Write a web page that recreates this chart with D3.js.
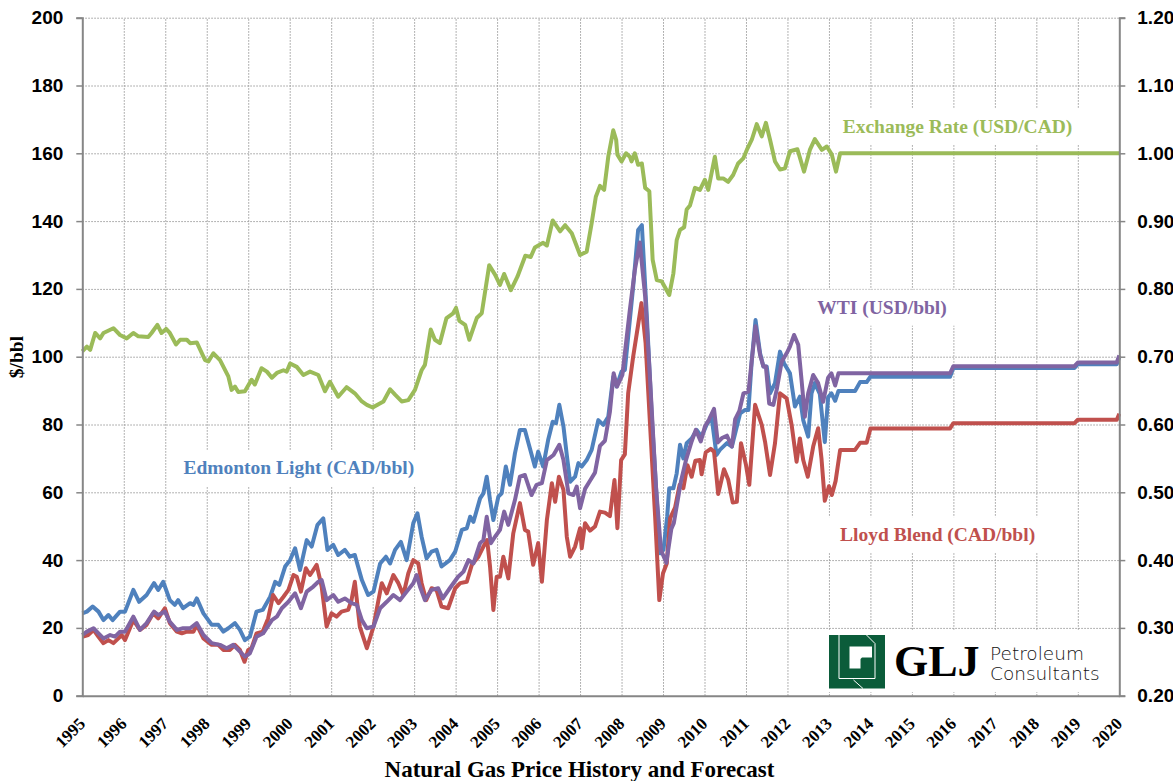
<!DOCTYPE html>
<html>
<head>
<meta charset="utf-8">
<script src="https://cdn.jsdelivr.net/npm/d3@7"></script>
<style>
  body { margin: 0; background: #fff; }
  svg { font-family: "Liberation Serif", "Times New Roman", serif; font-weight: bold; }
  .grid line { stroke: #9a9a9a; stroke-width: 1; stroke-dasharray: 1.5,1.5; }
  .grid .domain { display: none; }
  .axis .domain { stroke: #868686; stroke-width: 2; }
  .axis .tick line { stroke: #868686; stroke-width: 1.5; }
  .axis text { font-size: 19px; fill: #000; }
  .year-label { font-size: 17px; }
</style>
</head>
<body>
<div id="chart"></div>
<script>

// tick labels
var yearTicks = [1995, 1996, 1997, 1998, 1999, 2000, 2001, 2002, 2003, 2004, 2005, 2006, 2007,
  2008, 2009, 2010, 2011, 2012, 2013, 2014, 2015, 2016, 2017, 2018, 2019, 2020];
var priceTicks = [0, 20, 40, 60, 80, 100, 120, 140, 160, 180, 200];
var rateTicks = [0.2, 0.3, 0.4, 0.5, 0.6, 0.7, 0.8, 0.9, 1.0, 1.1, 1.2];

// [year, CAD/bbl]
var edmontonLight = [
  [1995.00,24.3],[1995.11,24.8],[1995.25,26.3],[1995.39,24.8],[1995.51,22.3],[1995.63,23.8],[1995.73,22.3],[1995.91,24.8],
  [1996.03,24.8],[1996.23,31.2],[1996.37,27.7],[1996.55,29.7],[1996.73,33.2],[1996.83,31.2],[1996.95,33.6],
  [1997.11,28.2],[1997.23,26.8],[1997.31,28.2],[1997.43,25.8],[1997.60,27.3],[1997.68,26.8],[1997.76,28.7],[1997.92,24.3],
  [1998.12,20.9],[1998.28,20.9],[1998.40,18.9],[1998.52,19.9],[1998.68,21.4],[1998.80,19.4],[1998.92,16.4],
  [1999.04,17.4],[1999.20,24.8],[1999.35,25.3],[1999.53,29.2],[1999.65,33.6],[1999.75,32.7],[1999.89,38.1],
  [2000.01,40],[2000.13,43.5],[2000.25,37.1],[2000.41,45.9],[2000.53,44],[2000.67,50.4],[2000.81,52.3],[2000.91,43],
  [2001.05,44.5],[2001.17,41.5],[2001.33,43],[2001.45,41],[2001.57,41.5],[2001.74,34.1],[2001.89,29.7],
  [2002.02,30.7],[2002.18,39],[2002.32,41],[2002.42,39],[2002.54,43],[2002.68,45.4],[2002.82,40],[2002.98,50.9],
  [2003.08,53.8],[2003.18,46.9],[2003.30,40.5],[2003.42,42.5],[2003.54,43],[2003.66,38.1],[2003.86,40],[2003.99,42.5],
  [2004.15,48.9],[2004.27,49.4],[2004.35,52.8],[2004.43,51.3],[2004.59,58.2],[2004.67,59.7],[2004.75,64.6],[2004.83,57.7],[2004.91,51.8],
  [2005.03,58.7],[2005.11,59.7],[2005.21,67.6],[2005.31,62.2],[2005.43,71.5],[2005.55,78.4],[2005.67,78.4],[2005.79,73],[2005.91,67.6],[2005.99,72],
  [2006.11,67.6],[2006.23,75.4],[2006.34,80.8],[2006.42,80.4],[2006.50,85.8],[2006.60,79.4],[2006.68,71],[2006.76,63.1],[2006.88,64.6],[2006.96,68.6],
  [2007.04,67.6],[2007.16,69.5],[2007.28,72.5],[2007.44,81.3],[2007.56,79.9],[2007.68,82.3],[2007.80,94.1],[2007.88,91.2],
  [2008.00,95.6],[2008.08,96.1],[2008.28,120.6],[2008.40,137.4],[2008.49,138.8],[2008.61,111.8],[2008.73,82.3],[2008.85,57.7],[2008.93,42],
  [2009.01,43],[2009.10,52.8],[2009.15,61.2],[2009.25,61.2],[2009.33,65.6],[2009.41,74],[2009.49,70],[2009.57,74.5],[2009.69,75.9],[2009.81,78.4],[2009.93,76.4],
  [2010.05,79.9],[2010.17,82.3],[2010.29,71],[2010.37,72.5],[2010.54,74.5],[2010.66,73.5],[2010.78,79.4],[2010.86,83.3],[2010.98,84.3],
  [2011.06,84.3],[2011.14,99],[2011.23,110.8],[2011.34,101],[2011.42,97.1],[2011.50,97.1],[2011.58,89.2],[2011.70,92.2],[2011.82,101.5],[2011.92,98],
  [2012.06,95.1],[2012.18,85.3],[2012.30,88.2],[2012.38,81.3],[2012.50,76.4],[2012.58,89.2],[2012.66,92.2],[2012.78,89],[2012.90,74.8],[2012.98,88],
  [2013.06,89.2],[2013.15,87],[2013.23,89.9],[2013.63,89.9],[2013.75,92.5],[2013.91,92.5],[2014.00,94.1],
  [2015.92,94.1],[2016.00,96.7],[2018.92,96.7],[2019.00,97.8],[2019.94,97.8],[2020.00,99.9]
];

// [year, USD/bbl]
var wti = [
  [1995.00,17.9],[1995.11,18.9],[1995.27,19.9],[1995.39,18.4],[1995.51,16.9],[1995.67,17.9],[1995.79,17.4],[1995.91,18.9],
  [1996.03,18.9],[1996.23,23.3],[1996.39,19.4],[1996.55,21.4],[1996.73,24.8],[1996.83,23.8],[1996.99,24.8],
  [1997.11,21.8],[1997.28,19.4],[1997.43,19.9],[1997.60,19.9],[1997.76,21.4],[1997.92,17.9],
  [1998.12,15.5],[1998.32,15],[1998.48,14],[1998.64,15],[1998.76,13.5],[1998.92,11.5],
  [1999.04,12.5],[1999.20,17.4],[1999.36,18.4],[1999.57,22.3],[1999.69,23.3],[1999.81,25.8],[1999.97,27.7],
  [2000.13,30.2],[2000.27,25.8],[2000.41,30.7],[2000.57,32.2],[2000.69,33.6],[2000.77,34.1],[2000.89,28.2],
  [2001.05,29.7],[2001.17,27.7],[2001.33,28.7],[2001.49,27.3],[2001.62,26.8],[2001.74,22.3],[2001.86,19.9],
  [2002.02,20.4],[2002.18,25.8],[2002.34,27.7],[2002.50,29.7],[2002.66,28.2],[2002.82,30.7],[2002.98,33.2],
  [2003.06,35.6],[2003.14,32.2],[2003.26,28.2],[2003.42,31.2],[2003.58,31.7],[2003.69,28.7],[2003.86,31.7],
  [2004.06,35.1],[2004.19,36.6],[2004.31,40],[2004.43,39],[2004.59,45],[2004.67,45.9],[2004.75,52.8],[2004.85,45],[2004.95,46.9],
  [2005.07,48.9],[2005.17,54.3],[2005.27,50.4],[2005.43,57.7],[2005.55,64.6],[2005.67,65.1],[2005.83,59.2],[2005.95,62.2],
  [2006.08,62.7],[2006.20,69.5],[2006.36,71],[2006.50,74],[2006.60,69.5],[2006.72,59.7],[2006.84,59.2],[2006.92,61.7],
  [2007.00,55.3],[2007.12,61],[2007.24,63.4],[2007.36,65.8],[2007.48,73.7],[2007.60,75.2],[2007.72,83.8],[2007.81,95.1],[2007.89,91.2],
  [2008.02,94.6],[2008.20,113.8],[2008.32,125.5],[2008.44,133.7],[2008.57,117.7],[2008.69,92.7],[2008.83,61.7],[2008.95,43],
  [2009.08,39.2],[2009.20,49.2],[2009.26,50.9],[2009.43,63.1],[2009.56,69.8],[2009.69,75],[2009.79,78.4],[2009.91,75],
  [2010.01,79.4],[2010.11,81.5],[2010.23,84.6],[2010.32,74.7],[2010.42,76],[2010.54,76.7],[2010.66,73.5],[2010.74,81.6],[2010.84,84],[2010.94,89.2],
  [2011.06,89.7],[2011.14,99],[2011.23,109],[2011.34,100.5],[2011.42,97.1],[2011.48,97.1],[2011.56,86.2],[2011.66,85.8],[2011.74,90.2],[2011.86,98.5],[2011.98,101],
  [2012.06,103],[2012.16,106.4],[2012.26,103.5],[2012.34,93.1],[2012.42,82.3],[2012.50,89.2],[2012.62,94.6],[2012.74,92.2],[2012.86,86.7],[2012.98,93.8],
  [2013.06,95.1],[2013.15,91.5],[2013.23,95.1],[2015.92,95.1],[2016.00,97.2],[2018.92,97.2],[2019.00,98.3],[2019.94,98.3],[2020.00,100.4]
];

// [year, CAD/bbl]
var lloydBlend = [
  [1995.00,17.4],[1995.14,17.9],[1995.27,19.4],[1995.39,17.4],[1995.51,15.5],[1995.63,16.4],[1995.75,15.5],[1995.87,16.9],[1995.95,17.9],
  [1996.03,16.4],[1996.23,22.3],[1996.39,19.4],[1996.55,20.9],[1996.71,24.3],[1996.83,22.8],[1996.99,25.8],
  [1997.11,21.4],[1997.28,18.9],[1997.40,18.4],[1997.52,18.9],[1997.68,18.9],[1997.76,20.9],[1997.92,16.9],
  [1998.12,15],[1998.28,15],[1998.40,13.5],[1998.56,13.5],[1998.68,15],[1998.80,13.5],[1998.91,10],
  [1999.00,13.5],[1999.08,14],[1999.20,18.4],[1999.35,18.9],[1999.48,22.8],[1999.60,29.7],[1999.73,27.3],[1999.85,29.2],[1999.97,31.2],
  [2000.09,35.6],[2000.17,35.1],[2000.27,30.7],[2000.39,37.6],[2000.49,35.6],[2000.65,38.6],[2000.77,32.2],[2000.89,20.4],
  [2001.01,24.3],[2001.13,23.3],[2001.25,24.8],[2001.41,25.3],[2001.49,28.2],[2001.57,33.6],[2001.69,20.4],[2001.86,14],
  [2002.02,20.4],[2002.14,28.2],[2002.22,33.2],[2002.34,30.2],[2002.50,35.6],[2002.62,33.2],[2002.74,29.7],[2002.86,36.1],[2002.98,40],
  [2003.10,39],[2003.18,33.2],[2003.29,28.2],[2003.42,31.7],[2003.54,31.2],[2003.66,26.3],[2003.82,25.8],[2003.99,31.7],
  [2004.11,33.2],[2004.27,33.6],[2004.39,38.6],[2004.55,41],[2004.67,44],[2004.76,45.9],[2004.83,38.1],[2004.91,25.3],[2004.99,35.1],
  [2005.07,35.1],[2005.15,41],[2005.27,34.6],[2005.39,47.9],[2005.55,56.8],[2005.67,48.9],[2005.75,48.4],[2005.87,38.6],[2005.99,45],
  [2006.08,33.6],[2006.20,51.8],[2006.32,62.7],[2006.40,57.2],[2006.49,64.6],[2006.60,60.7],[2006.68,46.9],[2006.76,41],[2006.88,44],
  [2007.00,49.4],[2007.04,43.5],[2007.12,50.9],[2007.24,48.7],[2007.36,49.9],[2007.48,54.3],[2007.60,54],[2007.72,53],[2007.83,63.6],[2007.90,49.4],[2007.99,69.5],
  [2008.08,71.2],[2008.16,89.2],[2008.28,100],[2008.40,109.4],[2008.48,115.8],[2008.58,104],[2008.69,79.4],[2008.81,52.8],[2008.91,28.2],
  [2009.00,36.1],[2009.09,39],[2009.17,52.3],[2009.29,55.5],[2009.40,62.2],[2009.49,61.2],[2009.59,68],[2009.69,64.6],[2009.78,69.3],[2009.89,69.5],[2009.93,65.3],
  [2010.03,71.8],[2010.15,72.8],[2010.23,72],[2010.33,59.5],[2010.47,66.8],[2010.57,63.8],[2010.68,57],[2010.78,57.2],[2010.88,74.5],
  [2011.00,68.1],[2011.08,62.2],[2011.22,85.8],[2011.38,79.9],[2011.46,74.9],[2011.58,65.1],[2011.70,74.5],[2011.82,89.2],[2011.98,87.7],
  [2012.10,79.9],[2012.22,69],[2012.30,75.9],[2012.38,69.5],[2012.49,64.6],[2012.62,73.5],[2012.74,78.9],[2012.82,70],[2012.90,57.5],
  [2013.00,61.8],[2013.07,59.2],[2013.16,63.3],[2013.27,72.5],[2013.63,72.5],[2013.75,74.6],[2013.91,74.6],[2014.00,78.8],
  [2015.92,78.8],[2016.00,80.4],[2018.92,80.4],[2019.00,81.4],[2019.94,81.4],[2020.00,83.2]
];

// [year, USD per CAD]
var exchangeRate = [
  [1995.00,0.708],[1995.11,0.715],[1995.19,0.710],[1995.31,0.735],[1995.43,0.727],[1995.51,0.735],[1995.75,0.742],[1995.91,0.732],
  [1996.07,0.727],[1996.23,0.735],[1996.35,0.730],[1996.59,0.729],[1996.67,0.735],[1996.81,0.747],[1996.91,0.735],
  [1997.02,0.741],[1997.11,0.735],[1997.26,0.718],[1997.36,0.725],[1997.52,0.725],[1997.60,0.720],[1997.76,0.721],[1997.96,0.695],
  [1998.04,0.693],[1998.16,0.705],[1998.32,0.695],[1998.52,0.671],[1998.60,0.651],[1998.68,0.656],[1998.76,0.648],[1998.92,0.649],
  [1999.08,0.666],[1999.16,0.659],[1999.32,0.683],[1999.45,0.678],[1999.57,0.669],[1999.69,0.676],[1999.85,0.680],[1999.93,0.678],
  [2000.01,0.690],[2000.17,0.685],[2000.33,0.673],[2000.49,0.678],[2000.69,0.673],[2000.85,0.649],[2000.97,0.663],
  [2001.17,0.641],[2001.37,0.655],[2001.57,0.646],[2001.74,0.634],[2001.86,0.629],
  [2002.00,0.625],[2002.14,0.630],[2002.26,0.634],[2002.42,0.652],[2002.54,0.644],[2002.70,0.634],[2002.86,0.636],
  [2003.02,0.651],[2003.18,0.680],[2003.26,0.688],[2003.40,0.740],[2003.50,0.725],[2003.62,0.720],[2003.78,0.757],[2003.94,0.764],
  [2004.01,0.772],[2004.09,0.753],[2004.23,0.747],[2004.33,0.725],[2004.51,0.757],[2004.63,0.764],[2004.81,0.835],[2004.95,0.821],
  [2005.07,0.806],[2005.17,0.822],[2005.33,0.798],[2005.49,0.818],[2005.68,0.849],[2005.81,0.847],[2005.91,0.861],
  [2006.11,0.868],[2006.20,0.864],[2006.34,0.901],[2006.52,0.885],[2006.64,0.894],[2006.80,0.882],
  [2007.00,0.850],[2007.16,0.855],[2007.28,0.897],[2007.38,0.936],[2007.48,0.952],[2007.58,0.946],[2007.68,0.995],[2007.80,1.034],[2007.87,1.020],[2007.90,0.998],
  [2008.00,0.988],[2008.11,1.000],[2008.20,0.995],[2008.24,0.988],[2008.32,1.000],[2008.40,0.983],[2008.49,0.985],[2008.57,0.949],[2008.67,0.944],[2008.75,0.843],[2008.85,0.813],[2008.97,0.811],
  [2009.15,0.791],[2009.25,0.823],[2009.33,0.872],[2009.41,0.887],[2009.51,0.891],[2009.57,0.917],[2009.65,0.923],[2009.77,0.949],[2009.89,0.946],
  [2010.01,0.961],[2010.09,0.946],[2010.25,0.995],[2010.33,0.963],[2010.45,0.963],[2010.57,0.958],[2010.69,0.968],[2010.81,0.985],[2010.94,0.993],
  [2011.02,1.005],[2011.14,1.020],[2011.26,1.043],[2011.38,1.025],[2011.48,1.045],[2011.58,1.020],[2011.70,0.988],[2011.82,0.976],[2011.94,0.978],
  [2012.06,1.003],[2012.24,1.006],[2012.40,0.973],[2012.54,1.005],[2012.66,1.021],[2012.83,1.005],[2012.95,1.010],
  [2013.07,0.998],[2013.17,0.973],[2013.27,1.000],[2020.00,1.000]
];


PriceChart = function(_parentElement) {
  this.parentElement = _parentElement;
  this.initVis();
}

PriceChart.prototype.initVis = function() {
  var vis = this;

  vis.margin = {top: 17.7, right: 53.7, bottom: 85.3, left: 82.3};
  vis.width = 1173 - vis.margin.left - vis.margin.right;
  vis.height = 781 - vis.margin.top - vis.margin.bottom;

  vis.svg = d3.select(vis.parentElement)
    .append('svg')
      .attr('width', 1173)
      .attr('height', 781);

  vis.g = vis.svg.append('g')
    .attr('transform', 'translate(' + vis.margin.left + ',' + vis.margin.top + ')');

  vis.x = d3.scaleLinear()
    .domain([1995, 2020])
    .range([0, vis.width]);
  vis.y = d3.scaleLinear()
    .domain([0, 200])
    .range([vis.height, 0]);
  vis.yRate = d3.scaleLinear()
    .domain([0.2, 1.2])
    .range([vis.height, 0]);

  // dotted grid
  vis.g.append('g')
    .attr('class', 'grid')
    .call(d3.axisLeft(vis.y).tickValues(priceTicks.slice(1)).tickSize(-vis.width).tickFormat(''));
  vis.g.append('g')
    .attr('class', 'grid')
    .attr('transform', 'translate(0,' + vis.height + ')')
    .call(d3.axisBottom(vis.x).tickValues(yearTicks.slice(1, -1)).tickSize(-vis.height).tickFormat(''));

  vis.series = [
    {name: 'Exchange Rate (USD/CAD)', data: exchangeRate, color: '#9bbb59', scale: vis.yRate, label: [2016.10, 166.0]},
    {name: 'Edmonton Light (CAD/bbl)', data: edmontonLight, color: '#4f81bd', scale: vis.y, label: [2000.22, 65.4]},
    {name: 'Lloyd Blend (CAD/bbl)', data: lloydBlend, color: '#c0504d', scale: vis.y, label: [2015.62, 45.6]},
    {name: 'WTI (USD/bbl)', data: wti, color: '#8064a2', scale: vis.y, label: [2014.28, 112.7]}
  ];

  vis.labelLayer = vis.g.append('g');
  vis.logoBox = vis.g.append('rect')
    .attr('x', 825 - vis.margin.left)
    .attr('y', 630 - vis.margin.top)
    .attr('width', 290)
    .attr('height', 62)
    .attr('fill', '#fff');
  vis.lineLayer = vis.g.append('g');

  // axes
  vis.g.append('g')
    .attr('class', 'axis')
    .call(d3.axisLeft(vis.y).tickValues(priceTicks).tickSize(6).tickPadding(13).tickFormat(d3.format('d')));
  vis.g.append('g')
    .attr('class', 'axis')
    .attr('transform', 'translate(' + vis.width + ',0)')
    .call(d3.axisRight(vis.yRate).tickValues(rateTicks).tickSize(6).tickPadding(12).tickFormat(d3.format('.2f')));
  vis.g.append('g')
    .attr('class', 'axis')
    .attr('transform', 'translate(0,' + vis.height + ')')
    .call(d3.axisBottom(vis.x).tickValues(yearTicks).tickSize(0).tickFormat(''));

  // rotated year labels
  vis.g.append('g')
    .selectAll('text')
    .data(yearTicks)
    .enter()
    .append('text')
      .attr('class', 'year-label')
      .attr('text-anchor', 'end')
      .attr('transform', function(d) {
        return 'translate(' + (vis.x(d) + 4) + ',' + (vis.height + 29) + ') rotate(-45)';
      })
      .text(function(d) { return d; });

  vis.svg.append('text')
    .attr('transform', 'translate(23,357) rotate(-90)')
    .attr('text-anchor', 'middle')
    .attr('font-size', '19.5px')
    .text('$/bbl');

  vis.svg.append('text')
    .attr('x', 579.5)
    .attr('y', 776.7)
    .attr('text-anchor', 'middle')
    .attr('font-size', '23px')
    .text('Natural Gas Price History and Forecast');

  vis.drawLogo();
  vis.updateVis();
}

PriceChart.prototype.drawLogo = function() {
  var vis = this;
  var logo = vis.svg.append('g').attr('transform', 'translate(829,635)');

  logo.append('rect')
    .attr('width', 56)
    .attr('height', 53.5)
    .attr('fill', '#0b5c3a');
  logo.append('path')
    .attr('d', 'M10,0 V43.5 H46 V8.5 L37.5,0 M24.5,45 L34,53.5')
    .attr('fill', 'none')
    .attr('stroke', '#fff')
    .attr('stroke-width', 1);
  logo.append('path')
    .attr('d', 'M20.5,11.5 H43 V22.5 H33 L31.5,24 V33.5 H20.5 Z')
    .attr('fill', '#fff');

  vis.svg.append('text')
    .attr('x', 894)
    .attr('y', 675.7)
    .attr('font-size', '44px')
    .text('GLJ');

  vis.svg.append('text')
    .style('font-family', '"DejaVu Sans", "Liberation Sans", sans-serif')
    .style('font-weight', 200)
    .style('font-size', '18.5px')
    .attr('fill', '#111')
    .selectAll('tspan')
    .data(['Petroleum', 'Consultants'])
    .enter()
    .append('tspan')
      .attr('x', 990)
      .attr('y', function(d, i) { return 660 + i * 20; })
      .text(function(d) { return d; });
}

PriceChart.prototype.updateVis = function() {
  var vis = this;

  vis.lineLayer.selectAll('path')
    .data(vis.series)
    .enter()
    .append('path')
      .attr('fill', 'none')
      .attr('stroke', function(d) { return d.color; })
      .attr('stroke-width', 4)
      .attr('stroke-linejoin', 'round')
      .attr('d', function(d) {
        return d3.line()
          .x(function(p) { return vis.x(p[0]); })
          .y(function(p) { return d.scale(p[1]); })(d.data);
      });

  // series labels sit on white boxes that cut the grid
  var labels = vis.labelLayer.selectAll('g')
    .data(vis.series)
    .enter()
    .append('g');

  labels.append('text')
    .attr('x', function(d) { return vis.x(d.label[0]); })
    .attr('y', function(d) { return vis.y(d.label[1]); })
    .attr('text-anchor', 'middle')
    .attr('font-size', '19.5px')
    .attr('fill', function(d) { return d.color; })
    .text(function(d) { return d.name; });

  labels.insert('rect', 'text')
    .each(function() {
      var b = d3.select(this.parentNode).select('text').node().getBBox();
      d3.select(this)
        .attr('x', b.x - 12)
        .attr('y', b.y - 7)
        .attr('width', b.width + 24)
        .attr('height', b.height + 14)
        .attr('fill', '#fff');
    });
}

new PriceChart('#chart');
</script>
</body>
</html>
